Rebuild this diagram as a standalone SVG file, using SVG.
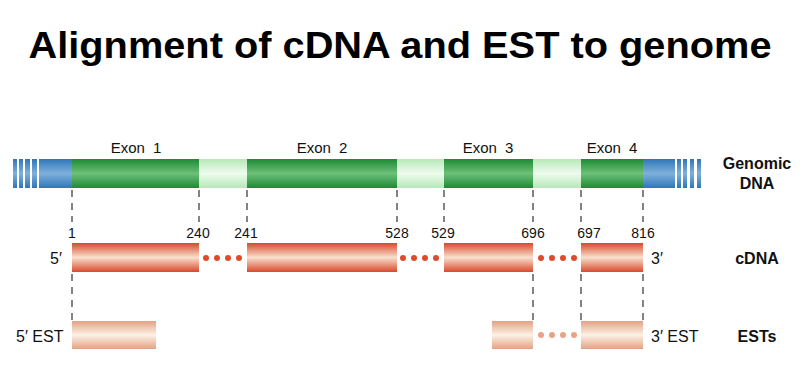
<svg xmlns="http://www.w3.org/2000/svg" width="800" height="372" viewBox="0 0 800 372">
<defs>
<linearGradient id="gGreen" x1="0" y1="0" x2="0" y2="1">
<stop offset="0" stop-color="#1e8a34"/><stop offset="0.5" stop-color="#6cc078"/><stop offset="1" stop-color="#1e8a34"/>
</linearGradient>
<linearGradient id="gIntron" x1="0" y1="0" x2="0" y2="1">
<stop offset="0" stop-color="#b6e8b8"/><stop offset="0.5" stop-color="#eefcee"/><stop offset="1" stop-color="#b6e8b8"/>
</linearGradient>
<linearGradient id="gBlue" x1="0" y1="0" x2="0" y2="1">
<stop offset="0" stop-color="#2f76b8"/><stop offset="0.5" stop-color="#7fb0dc"/><stop offset="1" stop-color="#2f76b8"/>
</linearGradient>
<linearGradient id="gRed" x1="0" y1="0" x2="0" y2="1">
<stop offset="0" stop-color="#d9482c"/><stop offset="0.5" stop-color="#f8e0cc"/><stop offset="1" stop-color="#d9482c"/>
</linearGradient>
<linearGradient id="gEst" x1="0" y1="0" x2="0" y2="1">
<stop offset="0" stop-color="#e2a283"/><stop offset="0.5" stop-color="#fcf1e6"/><stop offset="1" stop-color="#e2a283"/>
</linearGradient>
</defs>
<style>
text{font-family:"Liberation Sans",Arial,sans-serif;fill:#111}
.title{font-size:37px;font-weight:bold;fill:#000}
.exon{font-size:15px;word-spacing:4px}
.num{font-size:14px}
.end{font-size:16px}
.lbl{font-size:16px;font-weight:bold}
.dash{stroke:#333;stroke-width:1.2;stroke-dasharray:7,6;fill:none}
.rdot{fill:#e04a2a}
.edot{fill:#e8a383}
</style>
<rect width="800" height="372" fill="#fff"/>
<text class="title" x="400" y="58" text-anchor="middle" textLength="743" lengthAdjust="spacingAndGlyphs">Alignment of cDNA and EST to genome</text>

<g id="connectors">
<path class="dash" d="M72,190V222M199,190V222M247,190V222M397,190V222M444,190V222M533,190V222M581,190V222M643,190V222"/>
<path class="dash" d="M72,274V321M533,274V321M581,274V321M643,274V321"/>
</g>

<g id="genomic">
<rect x="13" y="159" width="4" height="29" fill="url(#gBlue)"/>
<rect x="19" y="159" width="4" height="29" fill="url(#gBlue)"/>
<rect x="25" y="159" width="5" height="29" fill="url(#gBlue)"/>
<rect x="32" y="159" width="5" height="29" fill="url(#gBlue)"/>
<rect x="39" y="159" width="33" height="29" fill="url(#gBlue)"/>
<rect x="72" y="159" width="127" height="29" fill="url(#gGreen)"/>
<rect x="199" y="159" width="48" height="29" fill="url(#gIntron)"/>
<rect x="247" y="159" width="150" height="29" fill="url(#gGreen)"/>
<rect x="397" y="159" width="47" height="29" fill="url(#gIntron)"/>
<rect x="444" y="159" width="89" height="29" fill="url(#gGreen)"/>
<rect x="533" y="159" width="48" height="29" fill="url(#gIntron)"/>
<rect x="581" y="159" width="62" height="29" fill="url(#gGreen)"/>
<rect x="643" y="159" width="32" height="29" fill="url(#gBlue)"/>
<rect x="677" y="159" width="4" height="29" fill="url(#gBlue)"/>
<rect x="683" y="159" width="4" height="29" fill="url(#gBlue)"/>
<rect x="690" y="159" width="4" height="29" fill="url(#gBlue)"/>
<rect x="697" y="159" width="4" height="29" fill="url(#gBlue)"/>
<text class="exon" x="136" y="153" text-anchor="middle">Exon 1</text>
<text class="exon" x="322" y="153" text-anchor="middle">Exon 2</text>
<text class="exon" x="488" y="153" text-anchor="middle">Exon 3</text>
<text class="exon" x="612" y="153" text-anchor="middle">Exon 4</text>
<text class="lbl" x="757" y="169" text-anchor="middle">Genomic</text>
<text class="lbl" x="757" y="189" text-anchor="middle">DNA</text>
</g>

<g id="cdna">
<rect x="72" y="243" width="127" height="29" fill="url(#gRed)"/>
<rect x="247" y="243" width="150" height="29" fill="url(#gRed)"/>
<rect x="444" y="243" width="89" height="29" fill="url(#gRed)"/>
<rect x="581" y="243" width="62" height="29" fill="url(#gRed)"/>
<circle class="rdot" cx="206" cy="258" r="3"/><circle class="rdot" cx="217" cy="258" r="3"/><circle class="rdot" cx="228" cy="258" r="3"/><circle class="rdot" cx="239" cy="258" r="3"/>
<circle class="rdot" cx="403" cy="258" r="3"/><circle class="rdot" cx="414" cy="258" r="3"/><circle class="rdot" cx="425" cy="258" r="3"/><circle class="rdot" cx="436" cy="258" r="3"/>
<circle class="rdot" cx="541" cy="258" r="3"/><circle class="rdot" cx="552" cy="258" r="3"/><circle class="rdot" cx="563" cy="258" r="3"/><circle class="rdot" cx="574" cy="258" r="3"/>
<text class="num" x="72" y="238" text-anchor="middle">1</text>
<text class="num" x="198" y="238" text-anchor="middle">240</text>
<text class="num" x="246" y="238" text-anchor="middle">241</text>
<text class="num" x="397" y="238" text-anchor="middle">528</text>
<text class="num" x="443" y="238" text-anchor="middle">529</text>
<text class="num" x="533" y="238" text-anchor="middle">696</text>
<text class="num" x="589" y="238" text-anchor="middle">697</text>
<text class="num" x="643" y="238" text-anchor="middle">816</text>
<text class="end" x="50" y="264">5′</text>
<text class="end" x="651" y="264">3′</text>
<text class="lbl" x="757" y="264" text-anchor="middle">cDNA</text>
</g>

<g id="ests">
<rect x="72" y="321" width="84" height="28" fill="url(#gEst)"/>
<rect x="492" y="321" width="41" height="28" fill="url(#gEst)"/>
<rect x="581" y="321" width="62" height="28" fill="url(#gEst)"/>
<circle class="edot" cx="541" cy="335" r="3"/><circle class="edot" cx="552" cy="335" r="3"/><circle class="edot" cx="563" cy="335" r="3"/><circle class="edot" cx="574" cy="335" r="3"/>
<text class="end" x="16" y="342">5′ EST</text>
<text class="end" x="651" y="342">3′ EST</text>
<text class="lbl" x="757" y="342" text-anchor="middle">ESTs</text>
</g>
</svg>
